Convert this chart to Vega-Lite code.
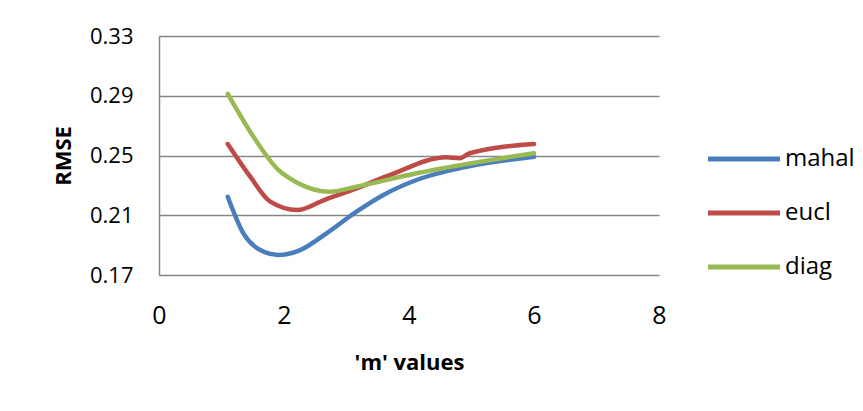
{
  "$schema": "https://vega.github.io/schema/vega-lite/v6.json",
  "autosize": {"type": "none"},
  "width": 500,
  "height": 239,
  "padding": {"left": 159, "top": 36, "right": 204, "bottom": 136},
  "background": "white",
  "config": {"view": {"stroke": null}, "font": "Open Sans"},
  "data": {"values": [
    {"m": 1.1, "rmse": 0.2224, "s": "mahal"},
    {"m": 1.35, "rmse": 0.1979, "s": "mahal"},
    {"m": 1.62, "rmse": 0.1867, "s": "mahal"},
    {"m": 1.91, "rmse": 0.1834, "s": "mahal"},
    {"m": 2.26, "rmse": 0.1867, "s": "mahal"},
    {"m": 2.68, "rmse": 0.1979, "s": "mahal"},
    {"m": 3.16, "rmse": 0.2124, "s": "mahal"},
    {"m": 3.59, "rmse": 0.2236, "s": "mahal"},
    {"m": 4.12, "rmse": 0.2336, "s": "mahal"},
    {"m": 4.92, "rmse": 0.2425, "s": "mahal"},
    {"m": 6.0, "rmse": 0.2492, "s": "mahal"},
    {"m": 1.1, "rmse": 0.2577, "s": "eucl"},
    {"m": 1.46, "rmse": 0.2358, "s": "eucl"},
    {"m": 1.78, "rmse": 0.2191, "s": "eucl"},
    {"m": 2.21, "rmse": 0.2135, "s": "eucl"},
    {"m": 2.64, "rmse": 0.2202, "s": "eucl"},
    {"m": 3.16, "rmse": 0.228, "s": "eucl"},
    {"m": 3.69, "rmse": 0.2369, "s": "eucl"},
    {"m": 4.6, "rmse": 0.2488, "s": "eucl"},
    {"m": 4.81, "rmse": 0.2482, "s": "eucl"},
    {"m": 4.97, "rmse": 0.2515, "s": "eucl"},
    {"m": 6.0, "rmse": 0.2577, "s": "eucl"},
    {"m": 1.1, "rmse": 0.2912, "s": "diag"},
    {"m": 1.46, "rmse": 0.2659, "s": "diag"},
    {"m": 1.91, "rmse": 0.2403, "s": "diag"},
    {"m": 2.21, "rmse": 0.2318, "s": "diag"},
    {"m": 2.74, "rmse": 0.2258, "s": "diag"},
    {"m": 3.16, "rmse": 0.2291, "s": "diag"},
    {"m": 4.12, "rmse": 0.2381, "s": "diag"},
    {"m": 6.0, "rmse": 0.2515, "s": "diag"}
  ]},
  "mark": {"type": "line", "strokeWidth": 4.5, "interpolate": "monotone", "strokeCap": "round"},
  "encoding": {
    "x": {"field": "m", "type": "quantitative",
      "scale": {"domain": [0, 8], "nice": false},
      "axis": {"values": [0, 2, 4, 6, 8], "grid": false, "domain": false, "ticks": false, "labelFlush": false,
        "labelFontSize": 25, "labelColor": "black", "labelPadding": 28,
        "title": "'m' values", "titleFontSize": 22, "titleFontWeight": "bold", "titleColor": "black", "titlePadding": 24}},
    "y": {"field": "rmse", "type": "quantitative",
      "scale": {"domain": [0.17, 0.33], "nice": false, "zero": false},
      "axis": {"values": [0.17, 0.21, 0.25, 0.29, 0.33], "format": ".2f", "grid": true, "gridColor": "#868686", "gridWidth": 1.5,
        "domain": true, "domainColor": "#868686", "domainWidth": 1.5, "ticks": false, "labelFlush": false,
        "labelFontSize": 22, "labelColor": "black", "labelPadding": 26,
        "title": "RMSE", "titleFontSize": 22, "titleFontWeight": "bold", "titleColor": "black", "titlePadding": 14}},
    "color": {"field": "s", "type": "nominal",
      "scale": {"domain": ["mahal", "eucl", "diag"], "range": ["#4A7EBB", "#BE4B48", "#98B954"]},
      "legend": {"title": null, "orient": "none", "legendX": 546, "legendY": 84,
        "symbolType": "stroke", "symbolSize": 5200, "symbolStrokeWidth": 5,
        "labelFontSize": 24, "labelColor": "black", "labelOffset": 2, "rowPadding": 3}}
  }
}
